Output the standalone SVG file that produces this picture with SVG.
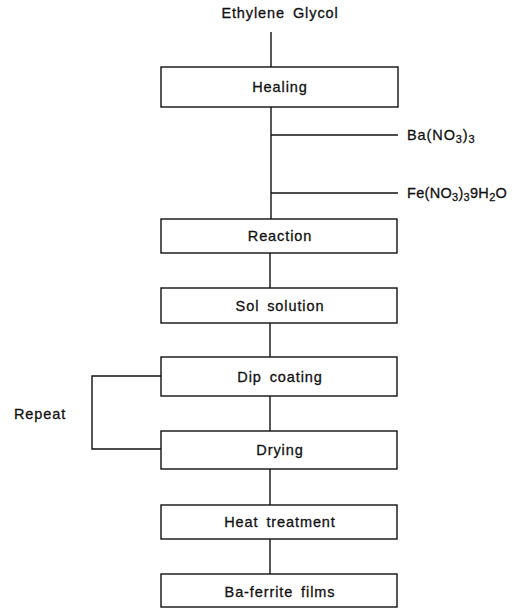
<svg xmlns="http://www.w3.org/2000/svg" width="530" height="608" viewBox="0 0 530 608">
<style>
.box{fill:#fff;stroke:#111;stroke-width:1.4}
.ln{stroke:#111;stroke-width:1.4;fill:none}
text{font-family:"Liberation Sans",Arial,sans-serif;font-size:14.5px;fill:#111;stroke:#111;stroke-width:0.3;letter-spacing:0.9px;word-spacing:3px}
.c{text-anchor:middle}
.s{font-size:11px}
</style>
<rect width="530" height="608" fill="#fff"/>
<g id="connectors">
<line class="ln" x1="271" y1="32" x2="271" y2="67"/>
<line class="ln" x1="271" y1="107" x2="271" y2="219"/>
<line class="ln" x1="271" y1="135" x2="398" y2="135"/>
<line class="ln" x1="271" y1="193" x2="398" y2="193"/>
<line class="ln" x1="270" y1="253" x2="270" y2="288"/>
<line class="ln" x1="270" y1="323" x2="270" y2="357"/>
<line class="ln" x1="270" y1="396" x2="270" y2="431"/>
<line class="ln" x1="270" y1="469" x2="270" y2="505"/>
<line class="ln" x1="270" y1="539" x2="270" y2="574"/>
<polyline class="ln" points="161,376 92,376 92,449 161,449"/>
</g>
<g id="ethylene"><text class="c" x="280" y="18">Ethylene Glycol</text></g>
<g id="ba"><text x="407" y="140">Ba(NO<tspan class="s" dy="3">3</tspan><tspan dy="-3">)</tspan><tspan class="s" dy="3">3</tspan></text></g>
<g id="fe"><text x="407" y="198" style="letter-spacing:0.3px">Fe(NO<tspan class="s" dy="3">3</tspan><tspan dy="-3">)</tspan><tspan class="s" dy="3">3</tspan><tspan dy="-3">9H</tspan><tspan class="s" dy="3">2</tspan><tspan dy="-3">O</tspan></text></g>
<g id="repeat"><text x="14" y="419">Repeat</text></g>
<g id="heating"><rect class="box" x="161" y="67" width="237" height="40"/><text class="c" x="280" y="92">Healing</text></g>
<g id="reaction"><rect class="box" x="161" y="219" width="236" height="34"/><text class="c" x="280" y="241">Reaction</text></g>
<g id="sol"><rect class="box" x="161" y="288" width="236" height="35"/><text class="c" x="280" y="311">Sol solution</text></g>
<g id="dip"><rect class="box" x="161" y="357" width="236" height="39"/><text class="c" x="280" y="382">Dip coating</text></g>
<g id="drying"><rect class="box" x="161" y="431" width="236" height="38"/><text class="c" x="280" y="455">Drying</text></g>
<g id="heat"><rect class="box" x="161" y="505" width="236" height="34"/><text class="c" x="280" y="527">Heat treatment</text></g>
<g id="film"><rect class="box" x="161" y="574" width="236" height="33"/><text class="c" x="280" y="597">Ba-ferrite films</text></g>
</svg>
